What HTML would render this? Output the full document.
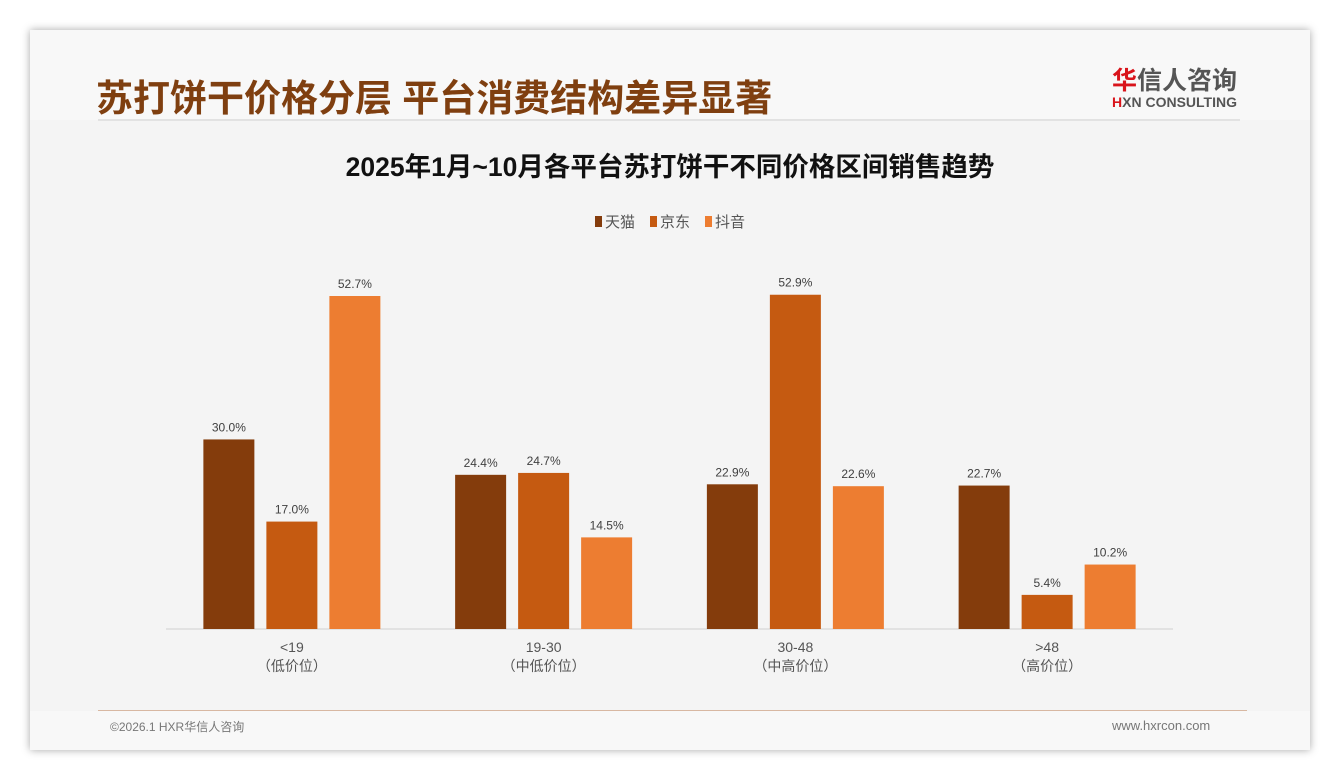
<!DOCTYPE html>
<html><head><meta charset="utf-8">
<style>
body{margin:0;width:1340px;height:780px;background:#fff;overflow:hidden;font-family:"Liberation Sans","Noto Sans CJK SC",sans-serif;}
#card{position:absolute;left:30px;top:30px;width:1280px;height:720px;background:#f4f4f4;box-shadow:0 0 8px rgba(0,0,0,0.35);}
.t{position:absolute;white-space:nowrap;}
</style></head><body>
<div id="card">
 <div class="t" style="left:0;top:0;width:1280px;height:90px;background:#f8f8f8;"></div>
 <div class="t" style="left:0;top:681px;width:1280px;height:39px;background:#f8f8f8;"></div>
 <div class="t" style="left:66px;top:38px;font-size:37px;font-weight:bold;color:#7f3f10;">苏打饼干价格分层 平台消费结构差异显著</div>
 <div class="t" style="left:1082px;top:31px;font-size:25px;color:#555;font-weight:bold;"><span style="color:#d9141b">华</span>信人咨询</div>
 <div class="t" style="left:1082px;top:64px;font-size:14px;color:#555;font-weight:bold;"><span style="color:#d9141b">H</span>XN CONSULTING</div>
 <div class="t" style="left:68px;top:89px;width:1142px;height:2px;background:#e2e2e2;"></div>
 <div class="t" style="left:68px;top:680px;width:1149px;height:1px;background:#d8b8a2;"></div>
 <div class="t" style="left:80px;top:688px;font-size:12px;color:#777;">©2026.1 HXR华信人咨询</div>
 <div class="t" style="left:1082px;top:688px;font-size:13px;color:#777;">www.hxrcon.com</div>
</div>
<svg id="chart" width="1340" height="780" style="position:absolute;left:0;top:0">
 <text x="670" y="176" text-anchor="middle" font-size="26.5" font-weight="bold" fill="#111">2025年1月~10月各平台苏打饼干不同价格区间销售趋势</text>
 <g id="legend"></g>
 <line x1="166" y1="629" x2="1173" y2="629" stroke="#d0d0d0" stroke-width="1"/>
 <g id="bars"></g>
</svg>
<script>
const categories=["<19","19-30","30-48",">48"];
const subLabels=["（低价位）","（中低价位）","（中高价位）","（高价位）"];
const seriesNames=["天猫","京东","抖音"];
const tmall=[30.0,24.4,22.9,22.7];
const jd=[17.0,24.7,52.9,5.4];
const douyin=[52.7,14.5,22.6,10.2];
const colors=["#843c0c","#c55a11","#ed7d31"];
const NS="http://www.w3.org/2000/svg";
const base=629, pxPer=333/52.7, x0=166, x1=1173;
const bw=(x1-x0)/categories.length;
function xCenter(i){return x0+bw*(i+0.5);}
function yScale(v){return base-v*pxPer;}
const g=document.getElementById('bars');
function mk(tag,attrs){const e=document.createElementNS(NS,tag);for(const k in attrs)e.setAttribute(k,attrs[k]);return e;}
const series=[tmall,jd,douyin];
const barW=51, step=63;
categories.forEach((c,i)=>{
  series.forEach((s,j)=>{
    const cx=xCenter(i)+(j-1)*step;
    const r=mk('rect',{x:cx-barW/2,y:yScale(s[i]),width:barW,height:base-yScale(s[i]),fill:colors[j]});
    
    
    g.appendChild(r);
    const t=mk('text',{x:cx,y:yScale(s[i])-8,'text-anchor':'middle','font-size':12,fill:'#404040'});
    t.textContent=s[i].toFixed(1)+'%';
    
    
    g.appendChild(t);
  });
  const l1=mk('text',{x:xCenter(i),y:652,'text-anchor':'middle','font-size':14,fill:'#555'});
  l1.textContent=c;
  
  
  g.appendChild(l1);
  const l2=mk('text',{x:xCenter(i),y:671,'text-anchor':'middle','font-size':14,fill:'#555'});
  l2.textContent=subLabels[i];
  
  
  g.appendChild(l2);
});
const lg=document.getElementById('legend');
let lx=595;
seriesNames.forEach((n,j)=>{
  const r=mk('rect',{x:lx,y:216,width:7,height:11,fill:colors[j]});
  
  
  lg.appendChild(r);
  const t=mk('text',{x:lx+10,y:227,'font-size':15,fill:'#555'});
  t.textContent=n;
  
  
  lg.appendChild(t);
  lx+=55;
});
</script>
</body></html>
